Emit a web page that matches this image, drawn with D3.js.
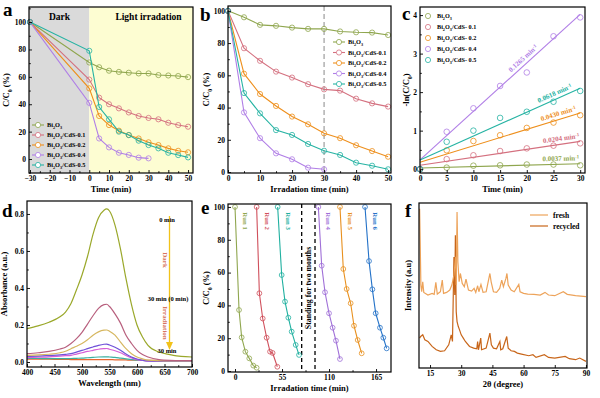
<!DOCTYPE html>
<html>
<head>
<meta charset="utf-8">
<script src="https://cdn.jsdelivr.net/npm/d3@7"></script>
<style>
  body { margin: 0; background: #fff; }
  svg { font-family: "Liberation Serif", "Times New Roman", serif; font-weight: bold; }
</style>
</head>
<body>
<div id="chart"></div>
<script>
// ---- data ----
const sampleNames = ["Bi2O3", "Bi2O3/CdS-0.1", "Bi2O3/CdS-0.2", "Bi2O3/CdS-0.4", "Bi2O3/CdS-0.5"];
const sampleColors = ["#8fa64e", "#d4707f", "#ee8f1c", "#b07ee6", "#26b3a3"];

// (a) dark adsorption + irradiation
const timeA = [-30, 0, 5, 10, 15, 20, 25, 30, 35, 40, 45, 50];
const aBi2O3 = [100, 70.5, 67, 64.5, 63.6, 63, 62.5, 62.5, 61.3, 61, 60.6, 59.8];
const aCdS01 = [100, 58, 44.8, 40, 37, 34, 31.4, 30, 29, 26.5, 24.8, 23.6];
const aCdS02 = [100, 51.6, 31.4, 24.8, 20.7, 17.5, 15, 12.2, 10.2, 7.8, 6, 4.9];
const aCdS04 = [100, 41, 15, 8.5, 4.6, 3, 1, 0.5];
const aCdS05 = [100, 79, 38, 29, 20, 17.5, 13.4, 10.2, 7.8, 4.6, 2.9, 1.2];

// (b) irradiation only
const timeB = [0, 5, 10, 15, 20, 25, 30, 35, 40, 45, 50];
const bBi2O3 = [100, 96, 91.3, 90.7, 89.6, 88.8, 88.8, 87.2, 86.7, 86.5, 85];
const bCdS01 = [100, 76.8, 69, 62.3, 58.6, 54.5, 51.3, 50.5, 45.5, 42.6, 40.6];
const bCdS02 = [100, 61, 48.4, 41, 34.4, 29.6, 24, 21, 16.6, 13, 9.5];
const bCdS04 = [100, 37, 21, 11.6, 7.9, 2.7, 1.7];
const bCdS05 = [100, 49, 36.4, 26, 23, 17.4, 13.2, 10.6, 5.8, 3.9, 1.7];

// (c) kinetics -ln(C/C0)
const timeC = [0, 5, 10, 15, 20, 25, 30];
const cBi2O3 = [0, 0.04, 0.09, 0.1, 0.12, 0.12, 0.1];
const cCdS01 = [0, 0.26, 0.36, 0.47, 0.54, 0.61, 0.67];
const cCdS02 = [0, 0.49, 0.73, 0.88, 1.07, 1.21, 1.4];
const cCdS04 = [0, 0.97, 1.58, 2.16, 2.51, 3.45, 3.94];
const cCdS05 = [0, 0.71, 1.0, 1.33, 1.49, 1.75, 2.03];
const fitStart = [0.03, 0.1, 0.18, 0.24, 0.24];   // fitted line at t = 0
const fitEnd = [0.14, 0.72, 1.46, 4.02, 2.1];     // fitted line at t = 30
const rateLabels = ["0.0037", "0.0204", "0.0430", "0.1265", "0.0618"];

// (d) absorbance spectra
const wavelength = [400, 420, 440, 460, 470, 480, 490, 500, 510, 520, 530, 540, 545, 550, 560, 570, 580, 590, 600, 610, 620, 640, 660, 680, 700];
const spec0 = [0.18, 0.195, 0.215, 0.244, 0.27, 0.316, 0.39, 0.47, 0.57, 0.69, 0.78, 0.82, 0.827, 0.816, 0.74, 0.61, 0.45, 0.31, 0.2, 0.135, 0.09, 0.054, 0.04, 0.03, 0.027];
const spec1 = [0.045, 0.05, 0.057, 0.07, 0.08, 0.1, 0.126, 0.16, 0.205, 0.25, 0.29, 0.31, 0.312, 0.3, 0.26, 0.21, 0.145, 0.1, 0.063, 0.04, 0.027, 0.013, 0.009, 0.008, 0.008];
const spec2 = [0.036, 0.038, 0.042, 0.05, 0.058, 0.072, 0.085, 0.1, 0.12, 0.145, 0.163, 0.172, 0.173, 0.166, 0.145, 0.108, 0.072, 0.045, 0.027, 0.017, 0.01, 0.007, 0.006, 0.006, 0.006];
const spec3 = [0.03, 0.032, 0.035, 0.038, 0.041, 0.045, 0.053, 0.063, 0.072, 0.081, 0.09, 0.096, 0.097, 0.092, 0.08, 0.063, 0.043, 0.027, 0.016, 0.01, 0.006, 0.005, 0.005, 0.005, 0.005];
const spec4 = [0.024, 0.026, 0.028, 0.032, 0.034, 0.036, 0.043, 0.05, 0.057, 0.063, 0.069, 0.072, 0.073, 0.069, 0.061, 0.05, 0.035, 0.022, 0.013, 0.008, 0.005, 0.004, 0.004, 0.004, 0.004];
const spec5 = [0.02, 0.019, 0.018, 0.018, 0.018, 0.019, 0.02, 0.021, 0.023, 0.025, 0.027, 0.028, 0.028, 0.027, 0.025, 0.021, 0.017, 0.013, 0.01, 0.008, 0.007, 0.006, 0.006, 0.006, 0.006];
const spec6 = [0.016, 0.015, 0.015, 0.014, 0.014, 0.013, 0.013, 0.013, 0.013, 0.013, 0.013, 0.013, 0.013, 0.013, 0.012, 0.012, 0.011, 0.01, 0.01, 0.009, 0.009, 0.008, 0.007, 0.006, 0.005];
const specColors = ["#9aa82a", "#b8607e", "#d6b760", "#7052d8", "#d65ed6", "#3bb0a0", "#e8662e"];

// (e) recycling runs
const runNames = ["Run 1", "Run 2", "Run 3", "Run 4", "Run 5", "Run 6"];
const runColors = ["#8fa64e", "#d0505c", "#20b0a0", "#a070d8", "#e8901e", "#2472c8"];
const run1Time = [0, 4.7, 7.8, 12.1, 16.7, 21.4, 25.3];
const run1 = [100, 37.2, 20.5, 11.8, 7.7, 3.3, 2];
const run2Time = [25.3, 28.5, 32.4, 37, 41, 44, 49.5];
const run2 = [100, 47.4, 32, 20.3, 11.8, 11, 2.6];
const run3Time = [49.9, 54.6, 58.5, 62.4, 66.3, 71, 74.9];
const run3 = [100, 58.5, 42.3, 32.5, 24, 15.9, 9.8];
const run4Time = [97.5, 101.4, 105.3, 110, 114.2, 118.1, 122.8];
const run4 = [100, 64.2, 48, 35.2, 26.4, 18.5, 7.3];
const run5Time = [122.8, 126.7, 130.6, 135.3, 139.2, 143.5, 148.2];
const run5 = [100, 62.2, 50, 41.3, 27.6, 18.9, 10.8];
const run6Time = [152.1, 156.8, 160.7, 164.6, 169.6, 173.5, 177.4];
const run6 = [100, 67, 49.8, 35.2, 26.4, 20.3, 13.8];
const standingMarks = [78, 93.6];

// (f) XRD patterns (arbitrary intensity)
const freshTheta = [10, 10.3, 10.6, 11, 11.5, 12, 14, 16, 17, 17.8, 18.5, 20, 20.9, 21.5, 23, 24.5, 25.5, 26.5, 27.3, 27.6, 28, 28.4, 29, 29.6, 30.5, 31.5, 32.3, 33.5, 35, 36.2, 37, 37.9, 38.5, 39.5, 40.5, 42, 43.8, 44.4, 45.5, 47, 48.5, 49.5, 50.3, 51.5, 52, 52.6, 54, 55.5, 57.7, 58.3, 60, 62, 65, 68, 70.3, 72, 75, 79.1, 81, 85, 90];
const freshI = [96, 74, 50, 46, 52, 45.6, 44, 45, 44.4, 51.6, 44.6, 46, 53, 45, 45.6, 47, 50, 56, 67, 50, 94, 64, 52, 57, 51, 49, 53.6, 47, 46.4, 48, 45.6, 49.6, 46, 50.4, 45.6, 46, 57, 52, 46, 45.6, 48, 53, 49, 54, 57, 50, 47, 46, 50.4, 46, 45, 44.6, 44.4, 44, 45.6, 44, 43.6, 46, 44.4, 43.6, 43];
const recTheta = [10, 10.5, 11.5, 12.5, 14, 16, 18, 20, 22, 24, 25.2, 25.8, 26.5, 26.9, 27.2, 27.6, 28, 28.6, 29.2, 30, 31, 32, 34, 36, 37.5, 37.9, 38.3, 39.4, 39.8, 42, 43.8, 44.5, 45.5, 47, 48.6, 49, 50, 51.9, 52.6, 54, 55.6, 57, 59, 62.5, 64.5, 66, 70, 72, 75, 80, 82, 85, 87, 90];
const recI = [18, 19, 20, 17, 16, 13, 11, 10, 10.4, 14, 20, 16, 67, 44, 80, 34, 28, 25, 23, 20, 18, 16, 13, 12, 11.6, 16, 11, 18, 11, 12, 21, 14, 12, 11.6, 16, 11, 11.6, 19, 12, 10.4, 10, 9, 8.4, 7.4, 8, 6.4, 8, 6.4, 6, 7, 5.6, 5, 6, 4];

// ---- helpers ----
const svg = d3.select("#chart").append("svg").attr("width", 600).attr("height", 398);

// parts: [text, shift] shift 0 normal, 1 subscript, -1 superscript
function rich(sel, parts, size) {
  let cur = 0;
  parts.forEach(([s, sh]) => {
    const want = sh * size * 0.3;
    sel.append("tspan")
      .attr("dy", want - cur)
      .attr("font-size", sh ? size * 0.68 : size)
      .text(s);
    cur = want;
  });
  return sel;
}
function chemParts(name) {
  const rest = name.replace("Bi2O3", "");
  const parts = [["Bi", 0], ["2", 1], ["O", 0], ["3", 1]];
  if (rest) parts.push([rest, 0]);
  return parts;
}

function makePanel(p) {
  const g = svg.append("g");
  const x = d3.scaleLinear().domain(p.xDomain).range([p.left, p.right]);
  const y = d3.scaleLinear().domain(p.yDomain).range([p.bottom, p.top]);
  return { g, x, y, p };
}

function finishPanel(P, o) {
  const { g, x, y, p } = P;
  const xa = g.append("g").attr("transform", `translate(0,${p.bottom})`);
  if (o.xMinor) xa.append("g").call(d3.axisBottom(x).tickValues(o.xMinor).tickSize(-1.8).tickFormat(""));
  xa.append("g").call(d3.axisBottom(x).tickValues(o.xTicks).tickSize(-3).tickPadding(3).tickFormat(o.xFmt || d3.format("d")));
  const ya = g.append("g").attr("transform", `translate(${p.left},0)`);
  if (o.yTicks) {
    if (o.yMinor) ya.append("g").call(d3.axisLeft(y).tickValues(o.yMinor).tickSize(-1.8).tickFormat(""));
    ya.append("g").call(d3.axisLeft(y).tickValues(o.yTicks).tickSize(-3).tickPadding(3).tickFormat(o.yFmt || d3.format("d")));
  }
  g.selectAll(".domain").remove();
  g.selectAll(".tick line").attr("stroke", "#000").attr("stroke-width", 0.9);
  g.selectAll(".tick text").attr("font-size", 7.5).attr("font-family", "Liberation Serif, serif").attr("font-weight", "bold").attr("fill", "#000");
  g.append("rect").attr("x", p.left).attr("y", p.top)
    .attr("width", p.right - p.left).attr("height", p.bottom - p.top)
    .attr("fill", "none").attr("stroke", "#000").attr("stroke-width", 1.2);
  // titles
  rich(g.append("text").attr("x", (p.left + p.right) / 2).attr("y", p.bottom + 19)
    .attr("text-anchor", "middle"), o.xTitle, 8.5);
  rich(g.append("text").attr("transform", `translate(${o.yTitleX},${(p.top + p.bottom) / 2}) rotate(-90)`)
    .attr("text-anchor", "middle"), o.yTitle, 8.5);
  g.append("text").attr("x", o.letter[1]).attr("y", o.letter[2])
    .attr("font-size", 19).text(o.letter[0]);
}

function lineWithDots(P, xs, ys, color, r) {
  const pts = ys.map((v, i) => [xs[i], v]);
  P.g.append("path").datum(pts)
    .attr("d", d3.line().x(d => P.x(d[0])).y(d => P.y(d[1])))
    .attr("fill", "none").attr("stroke", color).attr("stroke-width", 1.1);
  P.g.selectAll(null).data(pts).enter().append("circle")
    .attr("cx", d => P.x(d[0])).attr("cy", d => P.y(d[1])).attr("r", r || 2.6)
    .attr("fill", "none").attr("stroke", color).attr("stroke-width", 0.8);
}

function legendEntry(g, x, y, color, parts, size, withLine) {
  if (withLine) g.append("line").attr("x1", x - 6).attr("x2", x + 6).attr("y1", y).attr("y2", y)
    .attr("stroke", color).attr("stroke-width", 1.1);
  g.append("circle").attr("cx", x).attr("cy", y).attr("r", 2.6)
    .attr("fill", withLine ? "#fff" : "none").attr("stroke", color).attr("stroke-width", 0.8);
  rich(g.append("text").attr("x", x + 9).attr("y", y + 2.3), parts, size);
}

const ccParts = [["C/C", 0], ["0", 1], [" (%)", 0]];

// ---- panel a ----
const A = makePanel({ left: 29, right: 193, top: 7, bottom: 173, xDomain: [-30.5, 52.5], yDomain: [-10.2, 111] });
A.g.append("rect").attr("x", A.x.range()[0]).attr("y", A.p.top).attr("width", A.x(0) - A.x.range()[0])
  .attr("height", A.p.bottom - A.p.top).attr("fill", "#dadada");
A.g.append("rect").attr("x", A.x(0)).attr("y", A.p.top).attr("width", A.x.range()[1] - A.x(0))
  .attr("height", A.p.bottom - A.p.top).attr("fill", "#fdfdd2");
A.g.append("text").attr("x", 59.5).attr("y", 20).attr("text-anchor", "middle").attr("font-size", 9.5).text("Dark");
A.g.append("text").attr("x", 148.5).attr("y", 20).attr("text-anchor", "middle").attr("font-size", 9.5).text("Light irradation");
[aBi2O3, aCdS01, aCdS02, aCdS04, aCdS05].forEach((s, i) => lineWithDots(A, timeA, s, sampleColors[i]));
sampleNames.forEach((n, i) => legendEntry(A.g, 38, 125 + i * 10, sampleColors[i], chemParts(n), 6.3, true));
finishPanel(A, {
  xTicks: d3.range(-30, 51, 10), xMinor: d3.range(-25, 51, 10),
  yTicks: d3.range(0, 101, 20), yMinor: d3.range(-10, 111, 20),
  xTitle: [["Time (min)", 0]], yTitle: ccParts, yTitleX: 9, letter: ["a", 3, 16]
});

// ---- panel b ----
const B = makePanel({ left: 228, right: 391, top: 6, bottom: 173, xDomain: [0, 50.9], yDomain: [-0.6, 103] });
B.g.append("line").attr("x1", B.x(30)).attr("x2", B.x(30)).attr("y1", B.p.top).attr("y2", B.p.bottom)
  .attr("stroke", "#888").attr("stroke-width", 1).attr("stroke-dasharray", "5,3");
[bBi2O3, bCdS01, bCdS02, bCdS04, bCdS05].forEach((s, i) => lineWithDots(B, timeB, s, sampleColors[i]));
sampleNames.forEach((n, i) => legendEntry(B.g, 339, 42 + i * 10.5, sampleColors[i], chemParts(n), 6.3, true));
finishPanel(B, {
  xTicks: d3.range(0, 51, 10), xMinor: d3.range(5, 51, 10),
  yTicks: d3.range(0, 101, 20), yMinor: d3.range(10, 101, 20),
  xTitle: [["Irradation time (min)", 0]], yTitle: ccParts, yTitleX: 209, letter: ["b", 200, 20.5]
});

// ---- panel c ----
const C = makePanel({ left: 420, right: 585, top: 7, bottom: 173, xDomain: [0, 30.9], yDomain: [-0.1, 4.21] });
const cSeries = [cBi2O3, cCdS01, cCdS02, cCdS04, cCdS05];
const labelX = [561, 562, 560, 527, 557];
cSeries.forEach((s, i) => {
  const col = sampleColors[i];
  const x0 = C.x(0), y0 = C.y(fitStart[i]), x1 = C.x(30), y1 = C.y(fitEnd[i]);
  C.g.append("line").attr("x1", x0).attr("y1", y0).attr("x2", x1).attr("y2", y1)
    .attr("stroke", col).attr("stroke-width", 1.1);
  C.g.selectAll(null).data(timeC).enter().append("circle")
    .attr("cx", t => C.x(t)).attr("cy", (t, j) => C.y(s[j])).attr("r", 2.8)
    .attr("fill", "none").attr("stroke", col).attr("stroke-width", 0.8);
  const ang = Math.atan2(y1 - y0, x1 - x0) * 180 / Math.PI;
  const lx = labelX[i], ly = y0 + (y1 - y0) * (lx - x0) / (x1 - x0);
  rich(C.g.append("text").attr("transform", `translate(${lx},${ly}) rotate(${ang})`)
    .attr("text-anchor", "middle").attr("y", -3.5).attr("fill", col),
    [[rateLabels[i] + " min", 0], ["-1", -1]], 7);
});
sampleNames.forEach((n, i) => legendEntry(C.g, 428, 16 + i * 11, sampleColors[i], chemParts(n.replace("-", "- ")), 6.2, false));
finishPanel(C, {
  xTicks: d3.range(0, 31, 5),
  yTicks: d3.range(0, 5, 1), yMinor: d3.range(0.5, 4.2, 1),
  xTitle: [["Time (min)", 0]], yTitle: [["-ln(C/C", 0], ["0", 1], [")", 0]], yTitleX: 409, letter: ["c", 402, 20]
});

// ---- panel d ----
const D = makePanel({ left: 27, right: 192, top: 201, bottom: 367, xDomain: [400, 700], yDomain: [-0.027, 0.87] });
[spec6, spec5, spec4, spec3, spec2, spec1, spec0].forEach((s, k) => {
  const i = 6 - k;
  D.g.append("path").datum(s)
    .attr("d", d3.line().curve(d3.curveMonotoneX).x((v, j) => D.x(wavelength[j])).y(v => D.y(v)))
    .attr("fill", "none").attr("stroke", specColors[i]).attr("stroke-width", 1.2);
});
D.g.append("line").attr("x1", 169.5).attr("x2", 169.5).attr("y1", 216).attr("y2", 344)
  .attr("stroke", "#f2c21a").attr("stroke-width", 1.3);
D.g.append("path").attr("d", "M166,342 L173,342 L169.5,350 Z").attr("fill", "#f2c21a");
D.g.append("text").attr("x", 167).attr("y", 221.5).attr("text-anchor", "middle").attr("font-size", 6.5).text("0 min");
D.g.append("text").attr("x", 168).attr("y", 301).attr("text-anchor", "middle").attr("font-size", 6.5).text("30 min (0 min)");
D.g.append("text").attr("x", 167).attr("y", 352.5).attr("text-anchor", "middle").attr("font-size", 6.5).text("30 min");
D.g.append("text").attr("transform", "translate(163,260) rotate(90)").attr("text-anchor", "middle")
  .attr("font-size", 7).attr("fill", "#d8765e").text("Dark");
D.g.append("text").attr("transform", "translate(163,323) rotate(90)").attr("text-anchor", "middle")
  .attr("font-size", 7).attr("fill", "#d8765e").text("Irradiation");
finishPanel(D, {
  xTicks: d3.range(400, 701, 50), xMinor: d3.range(425, 700, 50),
  yTicks: [0, 0.2, 0.4, 0.6, 0.8], yMinor: [0.1, 0.3, 0.5, 0.7], yFmt: d3.format(".1f"),
  xTitle: [["Wavelength (nm)", 0]], yTitle: [["Absorbance (a.u.)", 0]], yTitleX: 7, letter: ["d", 2, 217]
});

// ---- panel e ----
const E = makePanel({ left: 228, right: 391, top: 204, bottom: 372, xDomain: [-8.2, 182.5], yDomain: [-0.6, 101.8] });
standingMarks.forEach(t => E.g.append("line").attr("x1", E.x(t)).attr("x2", E.x(t))
  .attr("y1", E.p.top).attr("y2", E.p.bottom).attr("stroke", "#000").attr("stroke-width", 1.3)
  .attr("stroke-dasharray", "4,3"));
const runTimes = [run1Time, run2Time, run3Time, run4Time, run5Time, run6Time];
[run1, run2, run3, run4, run5, run6].forEach((s, i) => {
  lineWithDots(E, runTimes[i], s, runColors[i], 2.4);
  E.g.append("text").attr("transform", `translate(${E.x(runTimes[i][0]) + 8},221) rotate(90)`)
    .attr("text-anchor", "middle").attr("font-size", 6.8).attr("fill", runColors[i]).text(runNames[i]);
});
E.g.append("text").attr("transform", `translate(${(E.x(standingMarks[0]) + E.x(standingMarks[1])) / 2 + 2.5},288) rotate(-90)`)
  .attr("text-anchor", "middle").attr("font-size", 7.8).text("Standing for two months");
finishPanel(E, {
  xTicks: [0, 55, 110, 165], xMinor: [27.5, 82.5, 137.5],
  yTicks: d3.range(0, 101, 20), yMinor: d3.range(10, 101, 20),
  xTitle: [["Irradation time (min)", 0]], yTitle: ccParts, yTitleX: 209, letter: ["e", 201, 213.5]
});

// ---- panel f ----
const F = makePanel({ left: 419, right: 587, top: 203, bottom: 368, xDomain: [9.7, 90.5], yDomain: [0, 99.5] });
[[recTheta, recI, "#c8661a"], [freshTheta, freshI, "#eda35a"]].forEach(([tx, iy, col]) => {
  F.g.append("path").datum(iy)
    .attr("d", d3.line().x((v, j) => F.x(tx[j])).y(v => F.y(v)))
    .attr("fill", "none").attr("stroke", col).attr("stroke-width", 1.2);
});
[["fresh", "#eda35a"], ["recycled", "#c8661a"]].forEach(([n, col], i) => {
  const yy = 215 + i * 11;
  F.g.append("line").attr("x1", 530).attr("x2", 548).attr("y1", yy).attr("y2", yy).attr("stroke", col).attr("stroke-width", 1.2);
  F.g.append("text").attr("x", 553).attr("y", yy + 2.5).attr("font-size", 7.5).text(n);
});
finishPanel(F, {
  xTicks: d3.range(15, 91, 15),
  xTitle: [["2θ (degree)", 0]], yTitle: [["Intensity (a.u)", 0]], yTitleX: 411, letter: ["f", 405, 217]
});
</script>
</body>
</html>
